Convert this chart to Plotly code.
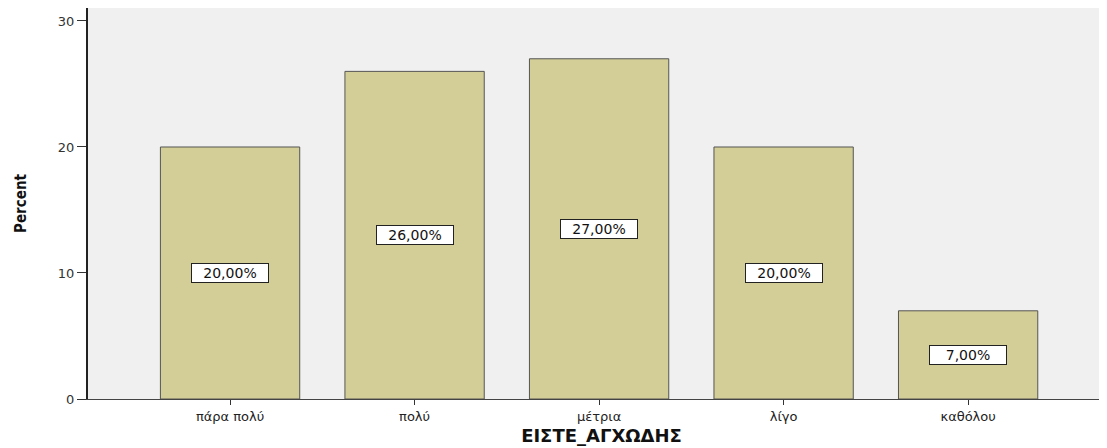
import plotly.graph_objects as go

categories = ["πάρα πολύ", "πολύ", "μέτρια", "λίγο", "καθόλου"]
percents = [20, 26, 27, 20, 7]
labels = ["20,00%", "26,00%", "27,00%", "20,00%", "7,00%"]
y_ticks = [0, 10, 20, 30]

fig = go.Figure()
fig.add_trace(go.Bar(
    x=list(range(len(categories))),
    y=percents,
    marker=dict(color="#d3ce97", line=dict(color="#555555", width=1)),
    width=0.755,
    hoverinfo="skip",
))

for i, (v, t) in enumerate(zip(percents, labels)):
    fig.add_annotation(
        x=i, y=v / 2, text=t, showarrow=False,
        font=dict(family="DejaVu Sans", size=14, color="#111111"),
        bgcolor="white", bordercolor="#222222", borderwidth=1,
        width=74, height=16, borderpad=1,
    )

# page body has an 8px margin, so the figure is offset accordingly
fig.update_layout(
    width=1107, height=440,
    margin=dict(l=80, r=0, t=0, b=49),
    paper_bgcolor="white",
    plot_bgcolor="#f0f0f0",
    showlegend=False,
)

fig.update_xaxes(
    range=[-0.77, 4.796],
    automargin=False,
    tickmode="array",
    tickvals=list(range(len(categories))),
    ticktext=categories,
    ticks="outside", ticklen=5, tickcolor="#333333", tickwidth=1,
    showline=True, linecolor="#444444", linewidth=1,
    showgrid=False, zeroline=False,
    tickfont=dict(family="DejaVu Sans", size=13, color="#222222"),
    title=dict(text="ΕΙΣΤΕ_ΑΓΧΩΔΗΣ",
               font=dict(family="DejaVu Sans", size=18, color="#111111", weight="bold"),
               standoff=6),
)

fig.update_yaxes(
    range=[0, 31.03],
    automargin=False,
    tickmode="array", tickvals=y_ticks,
    ticks="outside", ticklen=9, tickcolor="#333333", tickwidth=1,
    showline=True, linecolor="#222222", linewidth=2,
    showgrid=False, zeroline=False,
    tickfont=dict(family="DejaVu Sans", size=13, color="#333333"),
    title=dict(text="Percent",
               font=dict(family="DejaVu Sans Condensed, Roboto Condensed, Roboto, sans-serif",
                         size=15, color="#111111", weight="bold"),
               standoff=28),
)

fig.write_html("out.html")
